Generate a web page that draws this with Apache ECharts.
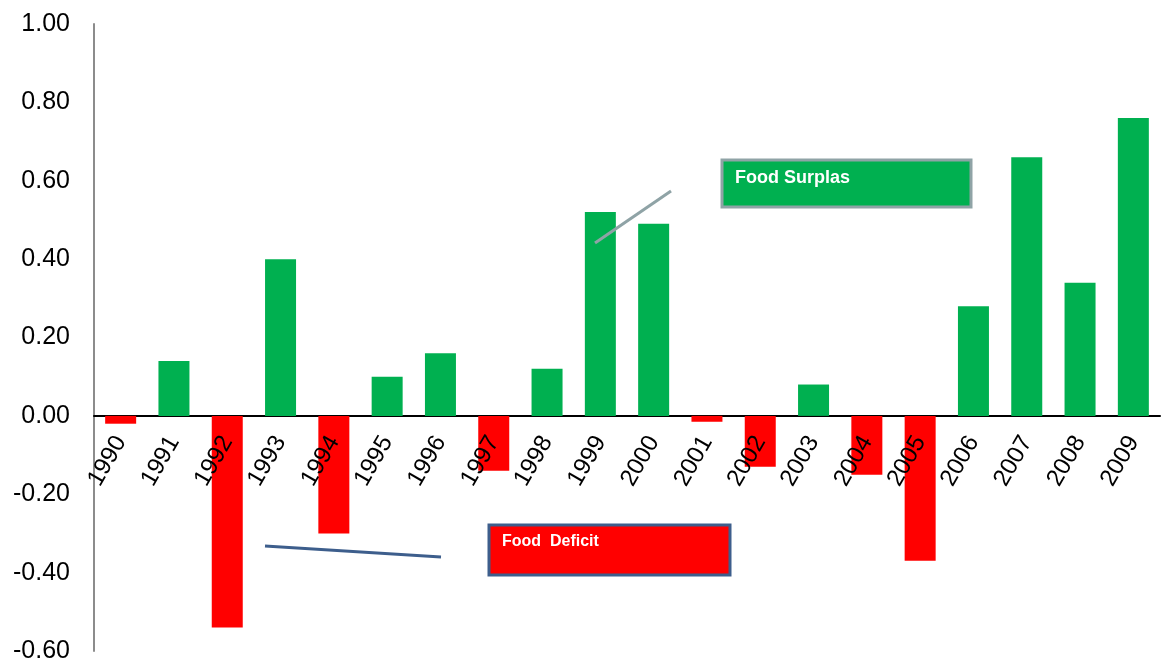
<!DOCTYPE html>
<html><head><meta charset="utf-8">
<script src="https://cdn.jsdelivr.net/npm/echarts@6/dist/echarts.min.js"></script>
<style>html,body{margin:0;padding:0;background:#fff}#c{width:1161px;height:662px}</style>
</head><body><div id="c"></div>
<script>
const categories = ['1990','1991','1992','1993','1994','1995','1996','1997','1998','1999','2000','2001','2002','2003','2004','2005','2006','2007','2008','2009'];
const values = [-0.02,0.14,-0.54,0.40,-0.30,0.10,0.16,-0.14,0.12,0.52,0.49,-0.015,-0.13,0.08,-0.15,-0.37,0.28,0.66,0.34,0.76];
const yTicks = {min:-0.6, max:1.0, interval:0.2};

const chart = echarts.init(document.getElementById('c'));
chart.setOption({
  animation:false,
  grid:[
    {left:94,right:1,top:24,bottom:11,containLabel:false,outerBoundsMode:'none'},
    {left:94,right:1,top:24,bottom:246,containLabel:false,outerBoundsMode:'none'}
  ],
  xAxis:[
    {type:'category',data:categories,gridIndex:0,
      axisLine:{show:true,onZero:true,lineStyle:{color:'#000',width:2}},
      axisTick:{show:false},axisLabel:{show:false}},
    {type:'category',data:categories,gridIndex:1,position:'bottom',z:20,
      axisLine:{show:false},axisTick:{show:false},
      axisLabel:{rotate:60,margin:22,fontSize:24,color:'#000',fontFamily:'Liberation Sans, Arial',interval:0}}
  ],
  yAxis:[
    {type:'value',min:yTicks.min,max:yTicks.max,interval:yTicks.interval,gridIndex:0,
      axisLine:{show:true,lineStyle:{color:'#8c8c8c',width:2}},
      axisTick:{show:false},splitLine:{show:false},
      axisLabel:{margin:24,fontSize:25,color:'#000',fontFamily:'Liberation Sans, Arial',formatter:v=>v.toFixed(2)}},
    {type:'value',gridIndex:1,show:false}
  ],
  series:[{type:'bar',data:values,barWidth:31,xAxisIndex:0,yAxisIndex:0,
    itemStyle:{color:p=>p.value<0?'#ff0000':'#00b050'}}],
  graphic:[
    {type:'line',z:100,shape:{x1:595,y1:243,x2:671,y2:191},style:{stroke:'#8fa3a6',lineWidth:3}},
    {type:'rect',z:100,shape:{x:722,y:160,width:249,height:47},style:{fill:'#00b050',stroke:'#8fa3a6',lineWidth:3}},
    {type:'text',z:101,left:735,top:169,style:{text:'Food Surplas',fill:'#fff',font:'bold 18px Liberation Sans, Arial'}},
    {type:'line',z:100,shape:{x1:265,y1:546,x2:441,y2:557},style:{stroke:'#3d5e8c',lineWidth:3}},
    {type:'rect',z:100,shape:{x:489,y:525,width:241,height:50},style:{fill:'#ff0000',stroke:'#3d5e8c',lineWidth:3}},
    {type:'text',z:101,left:502,top:534,style:{text:'Food  Deficit',fill:'#fff',font:'bold 16px Liberation Sans, Arial'}}
  ]
});
</script></body></html>
